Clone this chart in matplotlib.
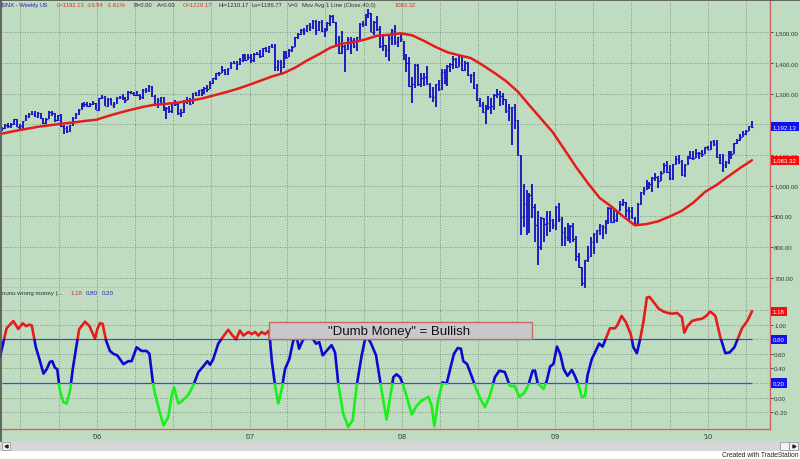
import numpy as np
import matplotlib
matplotlib.use("Agg")
import matplotlib.pyplot as plt
from matplotlib.patches import Rectangle
from matplotlib.lines import Line2D

# ---------------- data (weekly $INX, week 0 = 2005-05-20) ----------------
close = [1189, 1199, 1196, 1201, 1217, 1192, 1194, 1212, 1228, 1234, 1234, 1226, 1238, 1220, 1205, 1218, 1241,
         1238, 1215, 1229, 1196, 1187, 1180, 1198, 1220, 1235, 1248, 1268, 1265, 1259, 1267, 1269, 1248,
         1285, 1288, 1261, 1284, 1264, 1267, 1287, 1289, 1287, 1281, 1307, 1303, 1295, 1296, 1289, 1311,
         1311, 1326, 1291, 1267, 1280, 1288, 1252, 1252, 1245, 1270, 1265, 1236, 1240, 1279, 1279, 1267,
         1302, 1295, 1311, 1299, 1320, 1315, 1336, 1350, 1366, 1369, 1377, 1364, 1381, 1401, 1401, 1397,
         1410, 1427, 1411, 1418,
         1410, 1431, 1431, 1422, 1448, 1438, 1456, 1451, 1387, 1403, 1387, 1436, 1421, 1444, 1453, 1484,
         1494, 1506, 1506, 1523, 1516, 1536, 1508, 1533, 1503, 1503, 1530, 1553, 1534, 1459, 1433, 1454,
         1446, 1479, 1474, 1454, 1484, 1526, 1527, 1558, 1562, 1501, 1535, 1510, 1454, 1459, 1441, 1481,
         1505, 1468, 1484, 1478,
         1412, 1401, 1325, 1331, 1395, 1331, 1350, 1353, 1331, 1293, 1288, 1330, 1315, 1370, 1333, 1390,
         1398, 1414, 1388, 1425, 1376, 1400, 1361, 1360, 1318, 1278, 1263, 1239, 1261, 1258, 1260, 1296,
         1298, 1292, 1283, 1242, 1252, 1255, 1213, 1099, 899, 941, 877, 969, 931, 873, 800, 896, 876, 880,
         888, 873,
         932, 890, 850, 832, 826, 869, 827, 770, 735, 683, 757, 769, 816, 843, 857, 870, 866, 878, 929, 883,
         887, 919, 940, 946, 921, 919, 896, 879, 940, 979, 987, 1010, 1004, 1026, 1029, 1016, 1043, 1068,
         1044, 1025, 1071, 1088, 1080, 1036, 1069, 1093, 1091, 1091, 1106, 1106, 1102, 1126, 1115,
         1145, 1136, 1092, 1074, 1066, 1076, 1109, 1104, 1139, 1150, 1160, 1167, 1178, 1194, 1192]
high = [1192, 1200, 1205, 1206, 1219, 1219, 1202, 1212, 1230, 1236, 1245, 1245, 1240, 1238, 1222, 1222, 1243,
        1242, 1238, 1230, 1233, 1197, 1196, 1199, 1224, 1237, 1249, 1270, 1272, 1272, 1270, 1275, 1271,
        1287, 1295, 1294, 1286, 1287, 1274, 1289, 1294, 1298, 1290, 1310, 1310, 1307, 1310, 1300, 1314,
        1318, 1327, 1326, 1295, 1286, 1290, 1290, 1258, 1260, 1271, 1281, 1270, 1250, 1280, 1288, 1285,
        1303, 1305, 1313, 1314, 1322, 1328, 1340, 1352, 1367, 1372, 1390, 1381, 1384, 1403, 1407, 1406,
        1415, 1431, 1428, 1428,
        1430, 1432, 1437, 1441, 1450, 1453, 1457, 1461, 1461, 1410, 1410, 1438, 1440, 1446, 1456, 1485,
        1499, 1510, 1513, 1523, 1530, 1540, 1540, 1538, 1540, 1515, 1534, 1556, 1556, 1535, 1488, 1504,
        1460, 1485, 1485, 1482, 1485, 1529, 1538, 1559, 1576, 1563, 1536, 1552, 1520, 1492, 1460, 1488,
        1510, 1523, 1485, 1499,
        1471, 1429, 1420, 1355, 1397, 1396, 1369, 1367, 1389, 1335, 1321, 1330, 1345, 1381, 1380, 1395,
        1400, 1422, 1416, 1426, 1425, 1406, 1404, 1364, 1370, 1333, 1285, 1273, 1263, 1291, 1285, 1298,
        1314, 1308, 1303, 1284, 1268, 1256, 1265, 1215, 1099, 1006, 985, 977, 1007, 940, 917, 899, 896,
        919, 918, 890,
        935, 943, 898, 866, 878, 872, 877, 835, 780, 734, 759, 804, 832, 845, 857, 876, 871, 887, 930, 930,
        925, 920, 951, 956, 946, 931, 931, 899, 943, 981, 996, 1018, 1013, 1028, 1040, 1031, 1048, 1074,
        1080, 1067, 1072, 1096, 1101, 1083, 1071, 1097, 1114, 1112, 1120, 1110, 1117, 1127, 1130,
        1146, 1150, 1150, 1104, 1103, 1080, 1112, 1112, 1140, 1153, 1169, 1180, 1182, 1196, 1210]
low = [1178, 1185, 1188, 1189, 1198, 1190, 1183, 1184, 1210, 1222, 1229, 1224, 1222, 1218, 1202, 1201, 1217,
       1228, 1208, 1211, 1192, 1168, 1173, 1174, 1195, 1218, 1230, 1247, 1256, 1255, 1256, 1262, 1246,
       1245, 1282, 1260, 1258, 1263, 1253, 1265, 1284, 1278, 1269, 1281, 1298, 1291, 1292, 1280, 1284,
       1302, 1307, 1290, 1259, 1252, 1262, 1243, 1219, 1238, 1236, 1261, 1232, 1224, 1238, 1266, 1262,
       1266, 1292, 1294, 1292, 1298, 1307, 1314, 1331, 1346, 1357, 1368, 1360, 1362, 1379, 1397, 1377,
       1394, 1404, 1405, 1410,
       1400, 1404, 1425, 1415, 1420, 1436, 1433, 1448, 1374, 1375, 1364, 1385, 1413, 1420, 1436, 1452,
       1479, 1492, 1491, 1500, 1505, 1510, 1490, 1505, 1500, 1485, 1504, 1520, 1531, 1458, 1428, 1429,
       1371, 1444, 1430, 1449, 1440, 1476, 1518, 1520, 1546, 1500, 1490, 1505, 1450, 1439, 1420, 1406,
       1460, 1460, 1453, 1467,
       1410, 1370, 1322, 1270, 1317, 1325, 1321, 1325, 1329, 1285, 1274, 1257, 1310, 1312, 1330, 1325,
       1370, 1380, 1384, 1386, 1374, 1373, 1359, 1335, 1314, 1277, 1257, 1236, 1200, 1248, 1234, 1247,
       1285, 1261, 1262, 1236, 1212, 1133, 1186, 1097, 840, 866, 840, 845, 895, 818, 741, 792, 815, 837,
       850, 858,
       857, 883, 804, 804, 820, 812, 818, 754, 731, 672, 666, 751, 767, 779, 814, 840, 826, 841, 876, 878,
       879, 881, 917, 933, 899, 888, 891, 869, 875, 938, 971, 986, 990, 979, 1017, 991, 1015, 1041, 1041,
       1019, 1020, 1069, 1071, 1033, 1029, 1066, 1086, 1084, 1090, 1086, 1093, 1102, 1115,
       1115, 1131, 1090, 1071, 1045, 1058, 1070, 1087, 1102, 1136, 1146, 1158, 1165, 1179, 1187]

# 40-week moving average, read every 4 weeks
ma_week = [0, 4, 8, 12, 16, 20, 24, 28, 32, 36, 40, 44, 48, 52, 56, 60, 64, 68, 72, 76, 80, 84, 88, 92, 96,
           100, 104, 108, 112, 116, 120, 124, 128, 132, 136, 140, 144, 148, 152, 156, 160, 164, 168, 172,
           176, 180, 184, 188, 192, 196, 200, 204, 208, 212, 216, 220, 224, 228, 232, 236, 240, 244, 248,
           252, 256]
ma_val = [1170, 1178, 1185, 1192, 1197, 1202, 1206, 1211, 1215, 1227, 1238, 1248, 1257, 1264, 1267, 1271,
          1277, 1284, 1294, 1304, 1315, 1328, 1342, 1356, 1367, 1385, 1408, 1428, 1450, 1463, 1468, 1477,
          1489, 1492, 1497, 1490, 1472, 1452, 1435, 1425, 1416, 1393, 1368, 1341, 1307, 1262, 1218, 1174,
          1117, 1060, 1008, 960, 932, 900, 871, 875, 884, 900, 918, 945, 980, 1003, 1031, 1058, 1083]

# "nunu wrong money" indicator
ind_week = [-0.8, 0.3, 1.4, 3.7, 5.4, 6.9, 8.0, 9.2, 10.0, 11.4, 12.6, 14.0, 15.1, 16.2, 17.0, 17.9, 18.7,
            19.6, 20.8, 21.9, 23.1, 24.0, 25.1, 26.2, 28.2, 29.7, 31.6, 32.4, 33.3, 34.2, 35.4, 36.7, 37.9,
            39.2, 41.3, 43.0, 44.1, 45.8, 47.5, 49.2, 50.2, 51.3, 52.1, 53.6, 55.0, 56.6, 57.8, 58.6, 60.1,
            61.5, 63.5, 65.2, 66.9, 68.6, 70.0, 70.9, 72.0, 73.7, 74.9, 77.1, 78.6, 79.8, 81.1, 82.3, 84.0,
            85.1, 86.3, 87.4, 88.5, 89.7, 91.1, 92.0, 93.1, 94.2, 95.4, 96.5, 98.0, 99.3, 100.5, 101.3,
            102.5, 103.9, 105.6, 107.1, 108.2, 109.4, 110.7, 112.4, 113.6, 114.7, 116.4, 118.1, 119.6,
            121.0, 122.7, 124.1, 125.7, 127.6, 129.5, 131.2, 133.5, 134.6, 135.8, 136.9, 138.1, 139.8,
            141.5, 143.2, 145.5, 146.6, 147.5, 148.9, 150.3, 151.7, 152.9, 154.2, 155.5, 156.6, 157.4,
            158.7, 160.2, 161.7, 163.3, 164.8, 166.5, 168.2, 169.7, 171.6, 173.3, 175.0, 176.5, 178.1,
            179.6, 181.1, 181.9, 182.8, 184.8, 185.9, 187.1, 188.2, 189.4, 190.5, 191.7, 193.0, 194.5,
            195.6, 196.8, 197.9, 199.0, 199.8, 201.3, 202.4, 203.8, 205.0, 205.8, 207.5, 209.2, 210.0,
            211.5, 213.0, 214.6, 215.5, 216.7, 217.8, 218.9, 220.1, 221.0, 222.4, 224.1, 225.8, 227.2,
            228.7, 230.4, 232.1, 232.9, 234.0, 235.5, 237.2, 238.9, 240.4, 241.8, 243.5, 245.2, 246.9,
            248.4, 250.0, 251.1, 252.6, 254.4, 256.0]
ind_val = [0.57, 0.76, 0.95, 1.05, 0.94, 1.02, 0.98, 1.00, 0.99, 0.69, 0.53, 0.33, 0.39, 0.49, 0.50, 0.41,
           0.39, 0.10, -0.06, -0.08, 0.10, 0.39, 0.67, 0.94, 1.04, 0.98, 0.81, 0.94, 1.02, 1.01, 0.78, 0.64,
           0.60, 0.58, 0.46, 0.50, 0.50, 0.69, 0.64, 0.64, 0.60, 0.23, 0.05, -0.18, -0.38, -0.27, 0.03, 0.14,
           -0.08, -0.04, 0.04, 0.17, 0.35, 0.43, 0.50, 0.45, 0.53, 0.74, 0.81, 0.93, 0.85, 0.80, 0.92, 0.85,
           0.90, 0.87, 0.90, 0.85, 0.90, 0.87, 0.92, 0.50, 0.17, -0.08, 0.12, 0.39, 0.53, 0.78, 0.83, 0.67,
           0.78, 0.86, 0.83, 0.74, 0.76, 0.58, 0.64, 0.72, 0.62, 0.19, -0.22, -0.40, -0.31, 0.17, 0.58,
           0.85, 0.76, 0.58, 0.10, -0.30, 0.28, 0.32, 0.28, 0.17, 0.01, -0.23, -0.11, -0.04, 0.01, -0.11,
           -0.39, -0.02, 0.21, 0.19, 0.39, 0.60, 0.68, 0.67, 0.50, 0.46, 0.30, 0.13, -0.02, -0.13, 0.03,
           0.28, 0.37, 0.35, 0.16, 0.16, 0.01, 0.06, 0.17, 0.37, 0.37, 0.20, 0.12, 0.23, 0.43, 0.46, 0.70,
           0.60, 0.39, 0.30, 0.38, 0.29, 0.17, 0.01, 0.02, 0.30, 0.53, 0.62, 0.74, 0.70, 0.78, 0.95, 0.95,
           0.99, 1.12, 1.03, 0.87, 0.69, 0.61, 0.80, 1.03, 1.37, 1.38, 1.31, 1.22, 1.18, 1.16, 1.15, 1.16,
           1.10, 0.89, 0.98, 1.05, 1.07, 1.08, 1.12, 1.18, 1.12, 0.83, 0.61, 0.62, 0.69, 0.80, 0.95, 1.05,
           1.18]

price_ticks = [700, 800, 900, 1000, 1100, 1200, 1300, 1400, 1500]
ind_ticks = [-0.2, 0.0, 0.4, 0.6, 1.0, 1.2]
quarter_dates = ['2005-07-01', '2005-10-01', '2006-01-01', '2006-04-01', '2006-07-01', '2006-10-01',
                 '2007-01-01', '2007-04-01', '2007-07-01', '2007-10-01', '2008-01-01', '2008-04-01',
                 '2008-07-01', '2008-10-01', '2009-01-01', '2009-04-01', '2009-07-01', '2009-10-01',
                 '2010-01-01', '2010-04-01']
start_date = '2005-05-20'
last_close, last_ma, last_ind = 1192.13, 1083.32, 1.18
upper_lvl, lower_lvl = 0.80, 0.20

# ---------------- styling ----------------
BG = '#c0dcc0'
BAR = '#1616c4'
RED = '#e41c1c'
BLUE = '#0a0ad2'
GREEN = '#19f019'
GRID = '#6a7a6a'
TXT = '#333333'
FONT = ['Liberation Sans Narrow', 'Liberation Sans', 'DejaVu Sans']
plt.rcParams['font.family'] = FONT

W, H = 800, 460
fig = plt.figure(figsize=(8, 4.6), dpi=100, facecolor=BG)

def fx(px):
    return px / W

def fy(py):
    return 1 - py / H

XL = (-0.17, 262.17)
ax1 = fig.add_axes([fx(2), fy(289), 768 / W, 288 / H], facecolor=BG)
ax2 = fig.add_axes([fx(2), fy(430), 768 / W, 141 / H], facecolor=BG)
ax1.set_xlim(*XL)
ax2.set_xlim(*XL)
ax1.set_ylim(666.6, 1605.4)
ax2.set_ylim(-0.429, 1.502)

weeks = np.arange(len(close))
qpos = [(np.datetime64(d) - np.datetime64(start_date)).astype(int) / 7 for d in quarter_dates]

for ax in (ax1, ax2):
    for s in ('top', 'left'):
        ax.spines[s].set_visible(False)
    for s in ('right', 'bottom'):
        ax.spines[s].set_color('#d06464')
        ax.spines[s].set_linewidth(1.0)
    ax.yaxis.tick_right()
    ax.set_xticks(qpos)
    ax.grid(True, color=GRID, ls=(0, (1, 2)), lw=0.6, zorder=0)
    ax.set_axisbelow(True)
    ax.tick_params(axis='y', length=2.2, width=0.6, pad=0.8, labelsize=4.4, colors=TXT)
ax2.spines['top'].set_visible(False)

ax1.tick_params(axis='x', length=0, labelbottom=False)
ax2.tick_params(axis='x', length=0, pad=3, labelsize=5, colors=TXT)
ax2.set_xticklabels(["'" + d[2:4] if d[5:7] == '01' else '' for d in quarter_dates])

ax1.set_yticks(price_ticks)
ax1.set_yticklabels(['{:,.2f}'.format(v) for v in price_ticks])
ax2.set_yticks(ind_ticks)
ax2.set_yticklabels(['{:.2f}'.format(v) for v in ind_ticks])
ax2.set_yticks([upper_lvl, lower_lvl], minor=True)
ax2.tick_params(axis='y', which='minor', length=0)
ax2.grid(True, which='minor', axis='y', color=GRID, ls=(0, (1, 2)), lw=0.6, zorder=0)

# price bars
ax1.vlines(weeks, low, high, color=BAR, lw=1.35, zorder=2)
ax1.hlines(close, weeks, weeks + 0.5, color=BAR, lw=0.9, zorder=2)
ax1.plot(ma_week, ma_val, color=RED, lw=1.8, zorder=4, solid_capstyle='round', solid_joinstyle='round')

# indicator
ax2.hlines([upper_lvl, lower_lvl], XL[0], weeks[-1], color='#3050d8', lw=0.9, zorder=2)
for lo, hi, col in [(upper_lvl, 5, RED), (lower_lvl, upper_lvl, BLUE), (-5, lower_lvl, GREEN)]:
    ln, = ax2.plot(ind_week, ind_val, color=col, lw=1.9, zorder=3, solid_joinstyle='round')
    ln.set_clip_path(Rectangle((-10, lo), 300, hi - lo, transform=ax2.transData))

box = Rectangle((91.1, 0.81), 89.7, 0.23, fc='#c8c8c8', ec='#c86868', lw=1.0, zorder=6)
ax2.add_patch(box)
ax2.text(135.6, 0.918, '"Dumb Money" = Bullish', ha='center', va='center', fontsize=9.5,
         family=['Liberation Sans', 'DejaVu Sans'], color='#111111', zorder=7)

# value tags on the right
def tag(ax, v, text, fc):
    ax.annotate(text, xy=(1, v), xycoords=('axes fraction', 'data'), xytext=(2.0, 0),
                textcoords='offset points', ha='left', va='center', fontsize=4.4, color='white',
                annotation_clip=False,
                bbox=dict(boxstyle='square,pad=0.35', fc=fc, ec='none'), zorder=10)

tag(ax1, last_close, '{:,.2f}'.format(last_close), '#1010f0')
tag(ax1, last_ma, '{:,.2f}'.format(last_ma), '#f01010')
tag(ax2, last_ind, '{:.2f}'.format(last_ind), '#f01010')
tag(ax2, upper_lvl, '{:.2f}'.format(upper_lvl), '#1010f0')
tag(ax2, lower_lvl, '{:.2f}'.format(lower_lvl), '#1010f0')

# headers
HB, HR, HD = '#2424c0', '#d83030', '#303030'
hdr = [(1, r'\$INX - Weekly', HB), (39, 'US', HB), (57, 'L=1192.13', HR), (87, '-19.54', HR),
       (107, '-1.61%', HR), (133, 'B=0.00', HD), (157, 'A=0.00', HD), (183, 'O=1210.17', HR),
       (218, 'Hi=1210.17', HD), (252, 'Lo=1186.77', HD), (288, 'V=0', HD),
       (302, 'Mov Avg 1 Line (Close,40,0)', HD), (395, '1083.32', HR)]
for px, s, c in hdr:
    fig.text(fx(px), fy(5.5), s, color=c, fontsize=4.2, ha='left', va='center')
hdr2 = [(2, 'nunu wrong money (...', HD), (71, '1.18', HR), (86, '0.80', HB), (102, '0.20', HB)]
for px, s, c in hdr2:
    fig.text(fx(px), fy(294), s, color=c, fontsize=4.4, ha='left', va='center')

# window chrome: borders, scrollbar, footer
fig.patches.append(Rectangle((0, 0), 1, 8 / H, transform=fig.transFigure, fc='white', ec='none'))
fig.patches.append(Rectangle((0, 8 / H), 1, 10 / H, transform=fig.transFigure, fc='#d6d6d6', ec='none'))
for x0, x1 in [(2, 10), (780, 789), (789, 798)]:
    fig.patches.append(Rectangle((fx(x0), fy(451)), (x1 - x0) / W, 8 / H, transform=fig.transFigure,
                                 fc='#f2f2f2', ec='#8a8a8a', lw=0.5))
fig.lines.append(Line2D([fx(6)], [fy(447)], marker='<', ms=2.2, color='#222222', transform=fig.transFigure))
fig.lines.append(Line2D([fx(793.5)], [fy(447)], marker='>', ms=2.2, color='#222222', transform=fig.transFigure))
fig.lines.append(Line2D([fx(0.5), fx(0.5)], [fy(0), fy(442)], color='#505050', lw=1.2, transform=fig.transFigure))
fig.lines.append(Line2D([0, 1], [fy(0.5), fy(0.5)], color='#505050', lw=1.2, transform=fig.transFigure))
fig.text(fx(798), fy(456), 'Created with TradeStation', fontsize=4.8, color='#222222', ha='right', va='center')

fig.savefig('out.png', dpi=100, facecolor=BG)
